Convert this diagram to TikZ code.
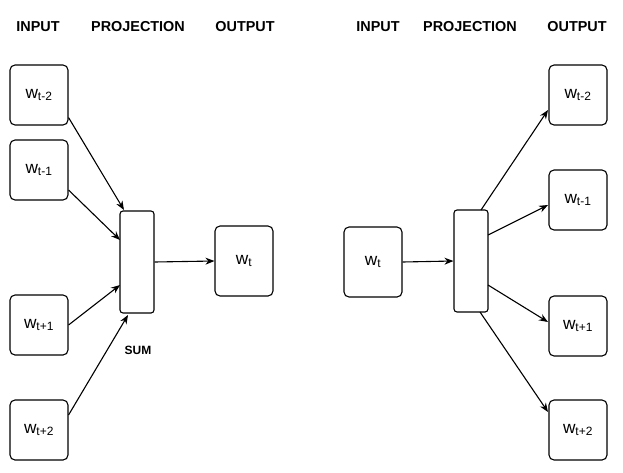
\documentclass[tikz,border=0pt]{standalone}
\usepackage{fontspec}
\setmainfont{Liberation Sans}
\usetikzlibrary{arrows.meta}
\newcommand{\wsub}[1]{w\textsubscript{#1}}
\begin{document}
\begin{tikzpicture} [x=1pt, y=-1pt, line width=1.1pt, word/.style={rectangle, draw, rounded corners=5pt, minimum width=58pt, minimum height=60pt, font=\LARGE}, proj/.style={rectangle, draw, rounded corners=3pt, minimum width=34pt, minimum height=102pt}, head/.style={font=\bfseries\Large}, >={Stealth[length=9pt,width=7pt]}]
\useasboundingbox (0,0) rectangle (623,472);
{
  %% CBOW
  \node [head] (lin) at (38,27) {INPUT};
  \node [head] (lproj) at (138,27) {PROJECTION};
  \node [head] (lout) at (245,27) {OUTPUT};
  \node [word] (lm2) at (39,95) {\wsub{t-2}};
  \node [word] (lm1) at (39,170) {\wsub{t-1}};
  \node [word] (lp1) at (39,325) {\wsub{t+1}};
  \node [word] (lp2) at (39,430) {\wsub{t+2}};
  \node [proj] (lsum) at (137,262) {};
  \node [font=\bfseries\large] (sum) at (138,350) {SUM};
  \node [word, minimum height=70pt] (lwt) at (244,261) {\wsub{t}};
  % Draw edges
  \draw [->] (lm2.south east) ++(0,-8) -- (124,210);
  \draw [->] (lm1.east) ++(0,20) -- (120,240);
  \draw [->] (lp1.east) -- (120,285);
  \draw [->] (lp2.east) ++(0,-15) -- (128,315);
  \draw [->] (lsum.east) -- (lwt.west);
  %% Skip-gram
  \node [head] (rin) at (378,27) {INPUT};
  \node [head] (rproj) at (470,27) {PROJECTION};
  \node [head] (rout) at (577,27) {OUTPUT};
  \node [word, minimum height=70pt] (rwt) at (373,262) {\wsub{t}};
  \node [proj] (rsum) at (471,261) {};
  \node [word] (rm2) at (578,95) {\wsub{t-2}};
  \node [word] (rm1) at (578,200) {\wsub{t-1}};
  \node [word] (rp1) at (578,326) {\wsub{t+1}};
  \node [word] (rp2) at (578,430) {\wsub{t+2}};
  \draw [->] (rwt.east) -- (rsum.west);
  \draw [->] (481,210) -- (548,110);
  \draw [->] (488,235) -- (548,205);
  \draw [->] (488,285) -- (548,322);
  \draw [->] (480,312) -- (548,412);
}
\end{tikzpicture}
\end{document}
